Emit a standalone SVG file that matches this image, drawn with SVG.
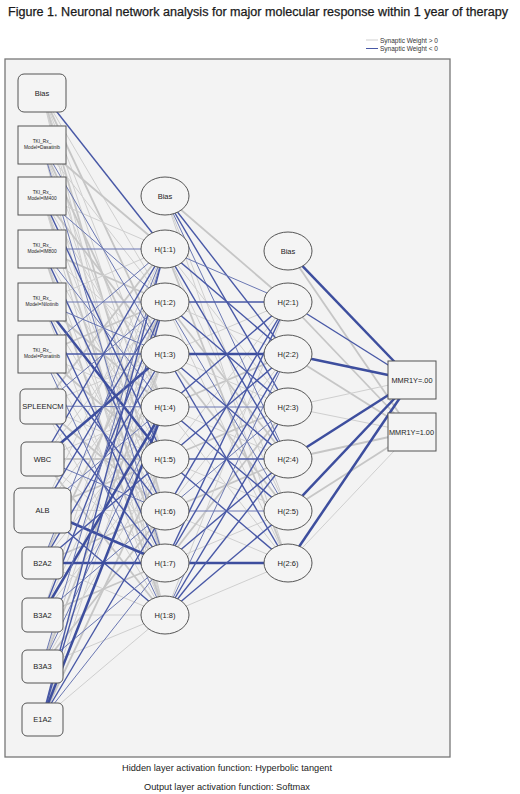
<svg xmlns="http://www.w3.org/2000/svg" width="520" height="794" viewBox="0 0 520 794">
<style>
text{font-family:"Liberation Sans",Arial,sans-serif;fill:#222}
.title{font-size:12px;fill:#1a1a1a;stroke:#1a1a1a;stroke-width:0.25}
.lg{font-size:6.5px;fill:#333}
.lab{font-size:7.5px;text-anchor:middle}
.sm{font-size:4.8px;text-anchor:middle}
.foot{font-size:9.5px;text-anchor:middle;fill:#222}
.node{fill:#f4f4f4;stroke:#555;stroke-width:1}
.p1{stroke:#cfcfcf;stroke-width:1}
.p2{stroke:#c6c6c6;stroke-width:1.8}
.n1{stroke:#6a77b2;stroke-width:1}
.n2{stroke:#4858a6;stroke-width:1.4}
.n3{stroke:#3d4e9e;stroke-width:2.5}
</style>
<rect x="0" y="0" width="520" height="794" fill="#ffffff"/>
<text class="title" x="8" y="16" textLength="500" lengthAdjust="spacingAndGlyphs">Figure 1. Neuronal network analysis for major molecular response within 1 year of therapy</text>
<g id="legend">
<line x1="366" y1="40" x2="378" y2="40" stroke="#cfcfcf" stroke-width="1"/>
<line x1="366" y1="48.5" x2="378" y2="48.5" stroke="#4858a6" stroke-width="1"/>
<text class="lg" x="380" y="42.5">Synaptic Weight &gt; 0</text>
<text class="lg" x="380" y="51">Synaptic Weight &lt; 0</text>
</g>
<rect x="5" y="59" width="445" height="698" fill="#f3f3f3" stroke="#777" stroke-width="1.3"/>
<g id="connectors">
<line class="p1" x1="42" y1="93" x2="165" y2="302"/>
<line class="p2" x1="42" y1="93" x2="165" y2="354"/>
<line class="p1" x1="42" y1="93" x2="165" y2="407"/>
<line class="p1" x1="42" y1="93" x2="165" y2="459"/>
<line class="p2" x1="42" y1="93" x2="165" y2="511"/>
<line class="p1" x1="42" y1="93" x2="165" y2="563"/>
<line class="p1" x1="42" y1="93" x2="165" y2="615"/>
<line class="p2" x1="42" y1="145" x2="165" y2="249"/>
<line class="p1" x1="42" y1="145" x2="165" y2="302"/>
<line class="p2" x1="42" y1="145" x2="165" y2="407"/>
<line class="p1" x1="42" y1="145" x2="165" y2="459"/>
<line class="p1" x1="42" y1="145" x2="165" y2="511"/>
<line class="p1" x1="42" y1="145" x2="165" y2="615"/>
<line class="p1" x1="42" y1="196" x2="165" y2="249"/>
<line class="p2" x1="42" y1="196" x2="165" y2="354"/>
<line class="p1" x1="42" y1="196" x2="165" y2="407"/>
<line class="p1" x1="42" y1="196" x2="165" y2="511"/>
<line class="p2" x1="42" y1="196" x2="165" y2="563"/>
<line class="p1" x1="42" y1="196" x2="165" y2="615"/>
<line class="p2" x1="42" y1="249" x2="165" y2="302"/>
<line class="p1" x1="42" y1="249" x2="165" y2="354"/>
<line class="p1" x1="42" y1="249" x2="165" y2="459"/>
<line class="p1" x1="42" y1="249" x2="165" y2="563"/>
<line class="p2" x1="42" y1="249" x2="165" y2="615"/>
<line class="p1" x1="42" y1="302" x2="165" y2="249"/>
<line class="p2" x1="42" y1="302" x2="165" y2="407"/>
<line class="p1" x1="42" y1="302" x2="165" y2="511"/>
<line class="p1" x1="42" y1="302" x2="165" y2="615"/>
<line class="p2" x1="42" y1="354" x2="165" y2="302"/>
<line class="p1" x1="42" y1="354" x2="165" y2="407"/>
<line class="p2" x1="42" y1="354" x2="165" y2="459"/>
<line class="p1" x1="42" y1="354" x2="165" y2="563"/>
<line class="p2" x1="42" y1="406" x2="165" y2="249"/>
<line class="p1" x1="42" y1="406" x2="165" y2="354"/>
<line class="p1" x1="42" y1="406" x2="165" y2="459"/>
<line class="p2" x1="42" y1="406" x2="165" y2="511"/>
<line class="p1" x1="42" y1="406" x2="165" y2="615"/>
<line class="p1" x1="42" y1="459" x2="165" y2="302"/>
<line class="p1" x1="42" y1="459" x2="165" y2="407"/>
<line class="p2" x1="42" y1="459" x2="165" y2="459"/>
<line class="p1" x1="42" y1="459" x2="165" y2="563"/>
<line class="p2" x1="42" y1="459" x2="165" y2="615"/>
<line class="p1" x1="42" y1="510" x2="165" y2="249"/>
<line class="p1" x1="42" y1="510" x2="165" y2="354"/>
<line class="p2" x1="42" y1="510" x2="165" y2="459"/>
<line class="p1" x1="42" y1="510" x2="165" y2="511"/>
<line class="p2" x1="42" y1="563" x2="165" y2="302"/>
<line class="p1" x1="42" y1="563" x2="165" y2="407"/>
<line class="p2" x1="42" y1="563" x2="165" y2="511"/>
<line class="p1" x1="42" y1="563" x2="165" y2="615"/>
<line class="p1" x1="42" y1="615" x2="165" y2="249"/>
<line class="p1" x1="42" y1="615" x2="165" y2="354"/>
<line class="p1" x1="42" y1="615" x2="165" y2="459"/>
<line class="p2" x1="42" y1="615" x2="165" y2="563"/>
<line class="p1" x1="42" y1="615" x2="165" y2="615"/>
<line class="p1" x1="42" y1="666" x2="165" y2="302"/>
<line class="p2" x1="42" y1="666" x2="165" y2="354"/>
<line class="p1" x1="42" y1="666" x2="165" y2="459"/>
<line class="p2" x1="42" y1="666" x2="165" y2="511"/>
<line class="p1" x1="42" y1="666" x2="165" y2="615"/>
<line class="p1" x1="42" y1="719" x2="165" y2="354"/>
<line class="p2" x1="42" y1="719" x2="165" y2="459"/>
<line class="p1" x1="42" y1="719" x2="165" y2="615"/>
<line class="p2" x1="165" y1="196" x2="288" y2="302"/>
<line class="p1" x1="165" y1="196" x2="288" y2="511"/>
<line class="p1" x1="165" y1="196" x2="288" y2="563"/>
<line class="p1" x1="165" y1="249" x2="288" y2="407"/>
<line class="p1" x1="165" y1="249" x2="288" y2="511"/>
<line class="p2" x1="165" y1="249" x2="288" y2="563"/>
<line class="p1" x1="165" y1="302" x2="288" y2="354"/>
<line class="p2" x1="165" y1="302" x2="288" y2="459"/>
<line class="p1" x1="165" y1="302" x2="288" y2="563"/>
<line class="p1" x1="165" y1="354" x2="288" y2="302"/>
<line class="p1" x1="165" y1="354" x2="288" y2="407"/>
<line class="p2" x1="165" y1="354" x2="288" y2="511"/>
<line class="p2" x1="165" y1="407" x2="288" y2="354"/>
<line class="p1" x1="165" y1="407" x2="288" y2="459"/>
<line class="p1" x1="165" y1="407" x2="288" y2="563"/>
<line class="p1" x1="165" y1="459" x2="288" y2="302"/>
<line class="p2" x1="165" y1="459" x2="288" y2="407"/>
<line class="p1" x1="165" y1="459" x2="288" y2="511"/>
<line class="p1" x1="165" y1="511" x2="288" y2="354"/>
<line class="p2" x1="165" y1="511" x2="288" y2="459"/>
<line class="p1" x1="165" y1="511" x2="288" y2="563"/>
<line class="p2" x1="165" y1="563" x2="288" y2="407"/>
<line class="p1" x1="165" y1="563" x2="288" y2="511"/>
<line class="p1" x1="165" y1="615" x2="288" y2="302"/>
<line class="p1" x1="165" y1="615" x2="288" y2="563"/>
<line class="p2" x1="288" y1="251" x2="412" y2="432"/>
<line class="p2" x1="288" y1="302" x2="412" y2="432"/>
<line class="p2" x1="288" y1="354" x2="412" y2="432"/>
<line class="p1" x1="288" y1="407" x2="412" y2="380"/>
<line class="p1" x1="288" y1="407" x2="412" y2="432"/>
<line class="p2" x1="288" y1="459" x2="412" y2="432"/>
<line class="p2" x1="288" y1="511" x2="412" y2="432"/>
<line class="p1" x1="288" y1="563" x2="412" y2="432"/>
<line class="n2" x1="42" y1="93" x2="165" y2="249"/>
<line class="n1" x1="42" y1="145" x2="165" y2="354"/>
<line class="n1" x1="42" y1="145" x2="165" y2="563"/>
<line class="n1" x1="42" y1="196" x2="165" y2="302"/>
<line class="n2" x1="42" y1="196" x2="165" y2="459"/>
<line class="n1" x1="42" y1="249" x2="165" y2="249"/>
<line class="n1" x1="42" y1="249" x2="165" y2="407"/>
<line class="n2" x1="42" y1="249" x2="165" y2="511"/>
<line class="n1" x1="42" y1="302" x2="165" y2="302"/>
<line class="n1" x1="42" y1="302" x2="165" y2="354"/>
<line class="n3" x1="42" y1="302" x2="165" y2="459"/>
<line class="n2" x1="42" y1="302" x2="165" y2="563"/>
<line class="n1" x1="42" y1="354" x2="165" y2="249"/>
<line class="n2" x1="42" y1="354" x2="165" y2="354"/>
<line class="n2" x1="42" y1="354" x2="165" y2="511"/>
<line class="n1" x1="42" y1="354" x2="165" y2="615"/>
<line class="n1" x1="42" y1="406" x2="165" y2="302"/>
<line class="n1" x1="42" y1="406" x2="165" y2="407"/>
<line class="n2" x1="42" y1="406" x2="165" y2="563"/>
<line class="n2" x1="42" y1="459" x2="165" y2="249"/>
<line class="n3" x1="42" y1="459" x2="165" y2="354"/>
<line class="n1" x1="42" y1="459" x2="165" y2="511"/>
<line class="n2" x1="42" y1="510" x2="165" y2="302"/>
<line class="n1" x1="42" y1="510" x2="165" y2="407"/>
<line class="n3" x1="42" y1="510" x2="165" y2="563"/>
<line class="n2" x1="42" y1="510" x2="165" y2="615"/>
<line class="n1" x1="42" y1="563" x2="165" y2="249"/>
<line class="n2" x1="42" y1="563" x2="165" y2="354"/>
<line class="n2" x1="42" y1="563" x2="165" y2="459"/>
<line class="n3" x1="42" y1="563" x2="165" y2="563"/>
<line class="n2" x1="42" y1="615" x2="165" y2="302"/>
<line class="n3" x1="42" y1="615" x2="165" y2="407"/>
<line class="n1" x1="42" y1="615" x2="165" y2="511"/>
<line class="n1" x1="42" y1="666" x2="165" y2="249"/>
<line class="n1" x1="42" y1="666" x2="165" y2="407"/>
<line class="n1" x1="42" y1="666" x2="165" y2="563"/>
<line class="n2" x1="42" y1="719" x2="165" y2="249"/>
<line class="n2" x1="42" y1="719" x2="165" y2="302"/>
<line class="n3" x1="42" y1="719" x2="165" y2="407"/>
<line class="n2" x1="42" y1="719" x2="165" y2="511"/>
<line class="n1" x1="42" y1="719" x2="165" y2="563"/>
<line class="n2" x1="165" y1="196" x2="288" y2="354"/>
<line class="n2" x1="165" y1="196" x2="288" y2="407"/>
<line class="n1" x1="165" y1="196" x2="288" y2="459"/>
<line class="n1" x1="165" y1="249" x2="288" y2="302"/>
<line class="n2" x1="165" y1="249" x2="288" y2="354"/>
<line class="n2" x1="165" y1="249" x2="288" y2="459"/>
<line class="n2" x1="165" y1="302" x2="288" y2="302"/>
<line class="n2" x1="165" y1="302" x2="288" y2="407"/>
<line class="n1" x1="165" y1="302" x2="288" y2="511"/>
<line class="n3" x1="165" y1="354" x2="288" y2="354"/>
<line class="n2" x1="165" y1="354" x2="288" y2="459"/>
<line class="n2" x1="165" y1="354" x2="288" y2="563"/>
<line class="n2" x1="165" y1="407" x2="288" y2="302"/>
<line class="n1" x1="165" y1="407" x2="288" y2="407"/>
<line class="n2" x1="165" y1="407" x2="288" y2="511"/>
<line class="n2" x1="165" y1="459" x2="288" y2="354"/>
<line class="n2" x1="165" y1="459" x2="288" y2="459"/>
<line class="n2" x1="165" y1="459" x2="288" y2="563"/>
<line class="n2" x1="165" y1="511" x2="288" y2="302"/>
<line class="n1" x1="165" y1="511" x2="288" y2="407"/>
<line class="n1" x1="165" y1="511" x2="288" y2="511"/>
<line class="n2" x1="165" y1="563" x2="288" y2="302"/>
<line class="n2" x1="165" y1="563" x2="288" y2="354"/>
<line class="n2" x1="165" y1="563" x2="288" y2="459"/>
<line class="n3" x1="165" y1="563" x2="288" y2="563"/>
<line class="n1" x1="165" y1="615" x2="288" y2="354"/>
<line class="n2" x1="165" y1="615" x2="288" y2="407"/>
<line class="n2" x1="165" y1="615" x2="288" y2="459"/>
<line class="n2" x1="165" y1="615" x2="288" y2="511"/>
<line class="n3" x1="288" y1="251" x2="412" y2="380"/>
<line class="n2" x1="288" y1="302" x2="412" y2="380"/>
<line class="n3" x1="288" y1="354" x2="412" y2="380"/>
<line class="n3" x1="288" y1="459" x2="412" y2="380"/>
<line class="n3" x1="288" y1="511" x2="412" y2="380"/>
<line class="n3" x1="288" y1="563" x2="412" y2="380"/>
</g>
<g id="in-bias"><rect class="node" x="18" y="74" width="48" height="38" rx="6"/><text class="lab" x="42" y="96">Bias</text></g>
<g id="in-dasatinib"><rect class="node" x="18" y="126" width="48" height="38"/><text class="sm" x="42" y="143">TKI_Rx_</text><text class="sm" x="42" y="149">Model=Dasatinib</text></g>
<g id="in-im400"><rect class="node" x="18" y="177" width="48" height="38"/><text class="sm" x="42" y="194">TKI_Rx_</text><text class="sm" x="42" y="200">Model=IM400</text></g>
<g id="in-im800"><rect class="node" x="18" y="230" width="48" height="38"/><text class="sm" x="42" y="247">TKI_Rx_</text><text class="sm" x="42" y="253">Model=IM800</text></g>
<g id="in-nilotinib"><rect class="node" x="18" y="283" width="48" height="38"/><text class="sm" x="42" y="300">TKI_Rx_</text><text class="sm" x="42" y="306">Model=Nilotinib</text></g>
<g id="in-ponatinib"><rect class="node" x="18" y="335" width="48" height="38"/><text class="sm" x="42" y="352">TKI_Rx_</text><text class="sm" x="42" y="358">Model=Ponatinib</text></g>
<g id="in-spleencm"><rect class="node" x="20" y="389" width="46" height="35" rx="5"/><text class="lab" x="43" y="409">SPLEENCM</text></g>
<g id="in-wbc"><rect class="node" x="21" y="442" width="43" height="34" rx="5"/><text class="lab" x="42.5" y="462">WBC</text></g>
<g id="in-alb"><rect class="node" x="14" y="488" width="57" height="45" rx="6"/><text class="lab" x="42.5" y="513">ALB</text></g>
<g id="in-b2a2"><rect class="node" x="22" y="547" width="41" height="32" rx="5"/><text class="lab" x="42.5" y="566">B2A2</text></g>
<g id="in-b3a2"><rect class="node" x="22" y="598" width="41" height="34" rx="5"/><text class="lab" x="42.5" y="618">B3A2</text></g>
<g id="in-b3a3"><rect class="node" x="22" y="650" width="41" height="33" rx="5"/><text class="lab" x="42.5" y="669">B3A3</text></g>
<g id="in-e1a2"><rect class="node" x="22" y="703" width="41" height="33" rx="5"/><text class="lab" x="42.5" y="722">E1A2</text></g>
<g id="h1-bias"><ellipse class="node" cx="165" cy="196" rx="24" ry="19"/><text class="lab" x="165" y="199">Bias</text></g>
<g id="h1-1"><ellipse class="node" cx="165" cy="249" rx="24" ry="19"/><text class="lab" x="165" y="252">H(1:1)</text></g>
<g id="h1-2"><ellipse class="node" cx="165" cy="302" rx="24" ry="19"/><text class="lab" x="165" y="305">H(1:2)</text></g>
<g id="h1-3"><ellipse class="node" cx="165" cy="354" rx="24" ry="19"/><text class="lab" x="165" y="357">H(1:3)</text></g>
<g id="h1-4"><ellipse class="node" cx="165" cy="407" rx="24" ry="19"/><text class="lab" x="165" y="410">H(1:4)</text></g>
<g id="h1-5"><ellipse class="node" cx="165" cy="459" rx="24" ry="19"/><text class="lab" x="165" y="462">H(1:5)</text></g>
<g id="h1-6"><ellipse class="node" cx="165" cy="511" rx="24" ry="19"/><text class="lab" x="165" y="514">H(1:6)</text></g>
<g id="h1-7"><ellipse class="node" cx="165" cy="563" rx="24" ry="19"/><text class="lab" x="165" y="566">H(1:7)</text></g>
<g id="h1-8"><ellipse class="node" cx="165" cy="615" rx="24" ry="19"/><text class="lab" x="165" y="618">H(1:8)</text></g>
<g id="h2-bias"><ellipse class="node" cx="288" cy="251" rx="24" ry="19"/><text class="lab" x="288" y="254">Bias</text></g>
<g id="h2-1"><ellipse class="node" cx="288" cy="302" rx="24" ry="19"/><text class="lab" x="288" y="305">H(2:1)</text></g>
<g id="h2-2"><ellipse class="node" cx="288" cy="354" rx="24" ry="19"/><text class="lab" x="288" y="357">H(2:2)</text></g>
<g id="h2-3"><ellipse class="node" cx="288" cy="407" rx="24" ry="19"/><text class="lab" x="288" y="410">H(2:3)</text></g>
<g id="h2-4"><ellipse class="node" cx="288" cy="459" rx="24" ry="19"/><text class="lab" x="288" y="462">H(2:4)</text></g>
<g id="h2-5"><ellipse class="node" cx="288" cy="511" rx="24" ry="19"/><text class="lab" x="288" y="514">H(2:5)</text></g>
<g id="h2-6"><ellipse class="node" cx="288" cy="563" rx="24" ry="19"/><text class="lab" x="288" y="566">H(2:6)</text></g>
<g id="out-0"><rect class="node" x="388" y="361" width="48" height="38"/><text class="lab" x="412" y="383" textLength="41" lengthAdjust="spacingAndGlyphs">MMR1Y=.00</text></g>
<g id="out-1"><rect class="node" x="388" y="413" width="48" height="38"/><text class="lab" x="411.5" y="435" textLength="45" lengthAdjust="spacingAndGlyphs">MMR1Y=1.00</text></g>
<text class="foot" x="227" y="771" textLength="210" lengthAdjust="spacingAndGlyphs">Hidden layer activation function: Hyperbolic tangent</text>
<text class="foot" x="227" y="790" textLength="166" lengthAdjust="spacingAndGlyphs">Output layer activation function: Softmax</text>
</svg>
